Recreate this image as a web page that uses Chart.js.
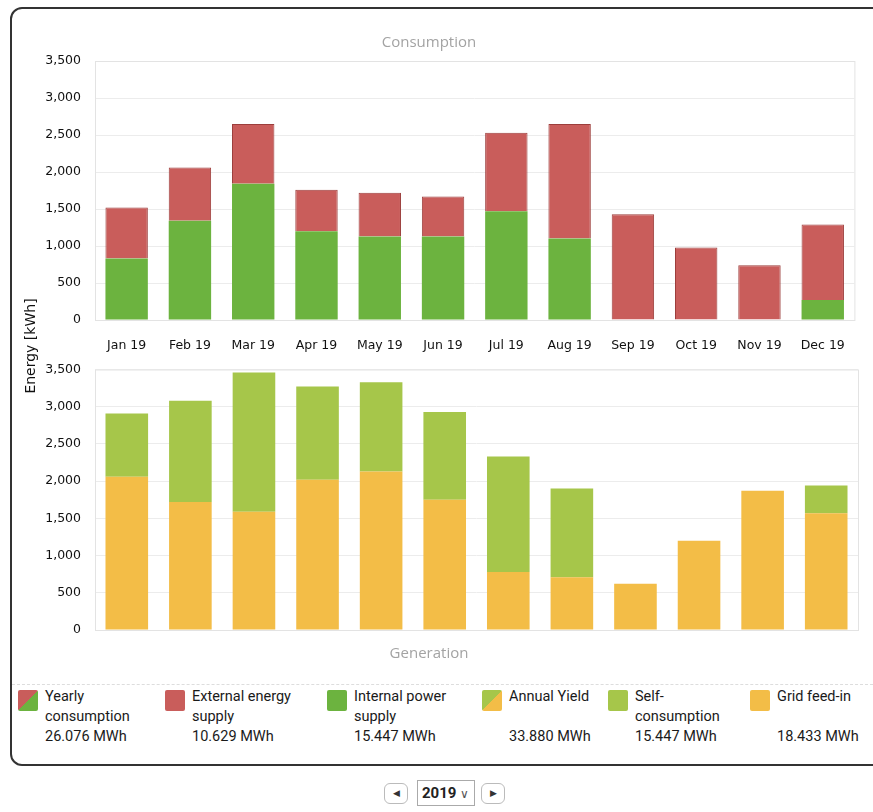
<!DOCTYPE html>
<html>
<head>
<meta charset="utf-8">
<script src="https://cdn.jsdelivr.net/npm/chart.js@4"></script>
<style>
  body { margin: 0; background: #fff; font-family: Roboto, sans-serif; }
  #frame { position: absolute; left: 10px; top: 7px; width: 900px; height: 759px;
           border: 2px solid #333; border-radius: 12px; box-sizing: border-box; }
  #top-wrap { position: absolute; left: 0; top: 25px; width: 863px; height: 346px; }
  #bottom-wrap { position: absolute; left: 0; top: 348px; width: 863px; height: 319px; }
  #ytitle { position: absolute; left: 30px; top: 346px; transform: translate(-50%, -50%) rotate(-90deg);
            font-family: "DejaVu Sans", sans-serif; font-size: 14px; color: #111; white-space: nowrap; }
  #sep { position: absolute; left: 12px; top: 684px; width: 861px; border-top: 1px dashed #ddd; }
  .item { position: absolute; top: 687px; font-size: 14.5px; line-height: 20px; color: #1a1a1a; }
  .sw { position: absolute; top: 690px; width: 20px; height: 21px; border-radius: 2px; }
  #year { position: absolute; top: 779px; left: 384px; height: 26px; }
  .btn { position: absolute; top: 4px; width: 24px; height: 21px; border: 1px solid #bbb; border-radius: 6px;
         box-sizing: border-box; font-size: 9px; line-height: 19px; text-align: center; color: #333; }
  #sel { position: absolute; left: 33px; top: 1px; width: 58px; height: 26px; border: 1px solid #aaa;
         box-sizing: border-box; font-size: 15px; font-weight: bold; line-height: 24px; padding-left: 4px; color: #222; }
</style>
</head>
<body>
<div id="frame"></div>
<div id="top-wrap"><canvas id="consumption"></canvas></div>
<div id="bottom-wrap"><canvas id="generation"></canvas></div>
<div id="ytitle">Energy [kWh]</div>
<div id="sep"></div>
<div id="legend"></div>
<div id="year">
  <div class="btn" style="left:0">&#9664;</div>
  <div id="sel">2019 <span style="font-weight:normal;font-size:12px;color:#555">&#8744;</span></div>
  <div class="btn" style="left:97px">&#9654;</div>
</div>
<script>
const months = ['Jan 19', 'Feb 19', 'Mar 19', 'Apr 19', 'May 19', 'Jun 19',
                'Jul 19', 'Aug 19', 'Sep 19', 'Oct 19', 'Nov 19', 'Dec 19'];

// consumption (kWh)
const internalSupply = [830, 1340, 1840, 1200, 1130, 1130, 1470, 1100, 0, 0, 0, 270];
const externalSupply = [690, 720, 810, 560, 590, 540, 1060, 1550, 1430, 980, 740, 1020];

// generation (kWh)
const gridFeedIn = [2060, 1720, 1590, 2020, 2130, 1750, 780, 710, 620, 1200, 1870, 1570];
const selfConsumption = [850, 1360, 1870, 1250, 1200, 1180, 1550, 1190, 0, 0, 0, 370];

const yMax = 3500;
const yStep = 500;

const legendLabels = ['Yearly<br>consumption', 'External energy<br>supply', 'Internal power<br>supply',
                      'Annual Yield<br>&nbsp;', 'Self-<br>consumption', 'Grid feed-in<br>&nbsp;'];
const legendValues = ['26.076 MWh', '10.629 MWh', '15.447 MWh', '33.880 MWh', '15.447 MWh', '18.433 MWh'];

const RED = '#c95d5b';
const GREEN = '#6cb33f';
const LIGHT_GREEN = '#a6c64a';
const YELLOW = '#f3bd47';

// faint frame round the plot area
const plotFrame = {
    id: 'plotFrame',
    beforeDatasetsDraw(chart) {
        const a = chart.chartArea;
        const ctx = chart.ctx;
        ctx.save();
        ctx.strokeStyle = '#e3e3e3';
        ctx.lineWidth = 1;
        ctx.strokeRect(a.left + 0.5, a.top + 0.5, a.right - a.left, a.bottom - a.top);
        ctx.restore();
    }
};

function makeOptions(titleText, titlePos, showX, padding) {
    return {
        responsive: true,
        maintainAspectRatio: false,
        animation: false,
        layout: { padding: padding },
        plugins: {
            legend: { display: false },
            tooltip: { enabled: false },
            title: {
                display: true,
                text: titleText,
                position: titlePos,
                color: '#a3a3a3',
                font: { family: 'Open Sans', size: 15, weight: 'normal' },
                padding: titlePos === 'top' ? { top: 9, bottom: 9 } : { top: 15, bottom: 4 }
            }
        },
        scales: {
            x: {
                stacked: true,
                grid: { display: false, drawTicks: false },
                border: { display: false },
                ticks: {
                    display: showX,
                    color: '#111',
                    padding: 18,
                    font: { family: 'DejaVu Sans', size: 12.5 }
                }
            },
            y: {
                stacked: true,
                min: 0,
                max: yMax,
                afterFit(scale) { scale.width = 95; },
                grid: { color: '#ececec', drawTicks: false },
                border: { display: false },
                ticks: {
                    stepSize: yStep,
                    color: '#111',
                    padding: 14,
                    font: { family: 'DejaVu Sans', size: 12.5 },
                    callback: v => v.toLocaleString('en-US')
                }
            }
        }
    };
}

new Chart(document.getElementById('consumption'), {
    type: 'bar',
    data: {
        labels: months,
        datasets: [
            { label: 'Internal power supply', data: internalSupply, backgroundColor: GREEN,
              categoryPercentage: 1, barPercentage: 0.67 },
            { label: 'External energy supply', data: externalSupply, backgroundColor: RED,
              borderColor: '#9c3e3c', borderWidth: 1, categoryPercentage: 1, barPercentage: 0.67 }
        ]
    },
    options: makeOptions('Consumption', 'top', true, { left: 0, right: 5, top: 0, bottom: 0 }),
    plugins: [plotFrame]
});

new Chart(document.getElementById('generation'), {
    type: 'bar',
    data: {
        labels: months,
        datasets: [
            { label: 'Grid feed-in', data: gridFeedIn, backgroundColor: YELLOW,
              categoryPercentage: 1, barPercentage: 0.67 },
            { label: 'Self-consumption', data: selfConsumption, backgroundColor: LIGHT_GREEN,
              categoryPercentage: 1, barPercentage: 0.67 }
        ]
    },
    options: makeOptions('Generation', 'bottom', false, { left: 0, right: 5, top: 6, bottom: 0 }),
    plugins: [plotFrame]
});

// legend underneath, built by hand like the original widget
const swatches = [
    'linear-gradient(135deg, ' + RED + ' 50%, ' + GREEN + ' 50%)',
    RED, GREEN,
    'linear-gradient(135deg, ' + LIGHT_GREEN + ' 50%, ' + YELLOW + ' 50%)',
    LIGHT_GREEN, YELLOW
];
const swatchX = [18, 165, 327, 482, 608, 750];
const legend = document.getElementById('legend');
legendLabels.forEach((lab, i) => {
    const sw = document.createElement('div');
    sw.className = 'sw';
    sw.style.left = swatchX[i] + 'px';
    sw.style.background = swatches[i];
    legend.appendChild(sw);
    const it = document.createElement('div');
    it.className = 'item';
    it.style.left = (swatchX[i] + 27) + 'px';
    it.innerHTML = lab + '<br>' + legendValues[i];
    legend.appendChild(it);
});
</script>
</body>
</html>
